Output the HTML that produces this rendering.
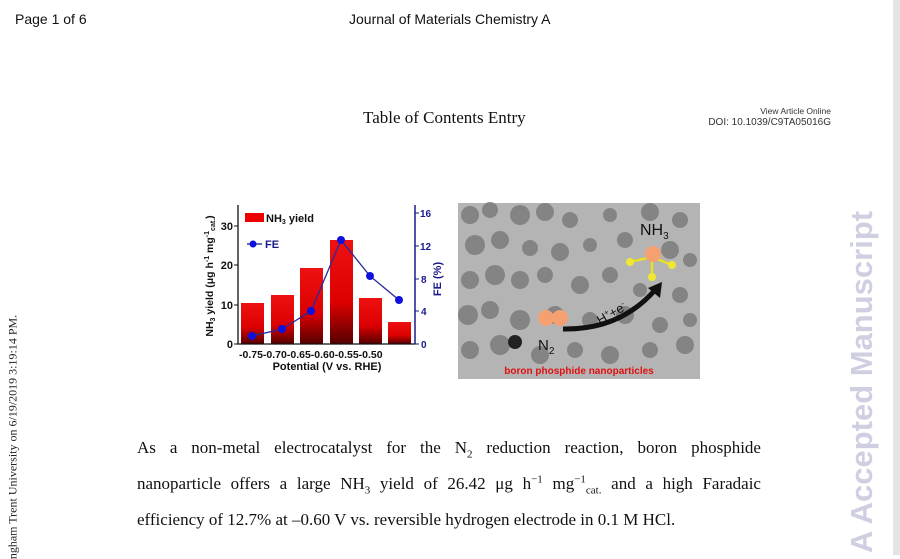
<!DOCTYPE html>
<html><head><meta charset="utf-8"><style>
body{margin:0;width:900px;height:555px;background:#fff;position:relative;overflow:hidden;font-family:"Liberation Sans",sans-serif}
.abs{position:absolute;white-space:nowrap}
.serif{font-family:"Liberation Serif",serif}
.ln{position:absolute;left:137px;width:624px;font-size:17px;color:#111;text-align:justify;text-align-last:justify;white-space:nowrap;font-family:"Liberation Serif",serif}
.ln sub,.ln sup{font-size:11px;line-height:0}
</style></head><body>
<div style="position:absolute;left:893px;top:0;width:7px;height:555px;background:#e4e4e4"></div>
<div class="abs" style="left:15px;top:11px;font-size:14px;color:#111">Page 1 of 6</div>
<div class="abs" style="left:349px;top:11px;font-size:14px;color:#111">Journal of Materials Chemistry A</div>
<div class="abs serif" style="left:363px;top:108px;font-size:17px;color:#111">Table of Contents Entry</div>
<div class="abs" style="right:69px;top:106px;font-size:8.5px;color:#333;text-align:right">View Article Online</div>
<div class="abs" style="right:69px;top:117px;font-size:10px;color:#333;text-align:right">DOI: 10.1039/C9TA05016G</div>

<div class="abs" style="left:862px;top:382px;transform:translate(-50%,-50%) rotate(-90deg);font-size:31px;font-weight:bold;color:#cfcfe2">A Accepted Manuscript</div>
<div class="abs serif" style="left:13px;top:437px;transform:translate(-50%,-50%) rotate(-90deg);font-size:12px;color:#222">ngham Trent University on 6/19/2019 3:19:14 PM.</div>

<svg style="position:absolute;left:0;top:0" width="900" height="555">
<defs><linearGradient id="bg" x1="0" y1="0" x2="0" y2="1"><stop offset="0" stop-color="#ee1111"/><stop offset="0.6" stop-color="#dd0000"/><stop offset="1" stop-color="#550000"/></linearGradient></defs>
<g font-family="Liberation Sans,sans-serif" font-weight="bold" font-size="11">
<rect x="241" y="303" width="23" height="41" fill="url(#bg)"/>
<rect x="271" y="295" width="23" height="49" fill="url(#bg)"/>
<rect x="300" y="268" width="23" height="76" fill="url(#bg)"/>
<rect x="330" y="240" width="23" height="104" fill="url(#bg)"/>
<rect x="359" y="298" width="23" height="46" fill="url(#bg)"/>
<rect x="388" y="322" width="23" height="22" fill="url(#bg)"/>
<polyline points="252,336 282,329 311,311 341,240 370,276 399,300" fill="none" stroke="#2a2a9a" stroke-width="1.3"/>
<g fill="#1010dd"><circle cx="252" cy="336" r="4"/><circle cx="282" cy="329" r="4"/><circle cx="311" cy="311" r="4"/><circle cx="341" cy="240" r="4"/><circle cx="370" cy="276" r="4"/><circle cx="399" cy="300" r="4"/></g>
<path d="M238 205V344H415" fill="none" stroke="#111" stroke-width="1.3"/>
<line x1="415" y1="205" x2="415" y2="344" stroke="#1a1a8a" stroke-width="1.5"/>
<g stroke="#111"><line x1="234" y1="344" x2="238" y2="344"/><line x1="234" y1="305" x2="238" y2="305"/><line x1="234" y1="265" x2="238" y2="265"/><line x1="234" y1="226" x2="238" y2="226"/></g>
<g stroke="#1a1a8a"><line x1="415" y1="344" x2="419" y2="344"/><line x1="415" y1="311" x2="419" y2="311"/><line x1="415" y1="279" x2="419" y2="279"/><line x1="415" y1="246" x2="419" y2="246"/><line x1="415" y1="213" x2="419" y2="213"/></g>
<g text-anchor="end" fill="#111"><text x="233" y="348">0</text><text x="233" y="309">10</text><text x="233" y="269">20</text><text x="233" y="230">30</text></g>
<g fill="#1a1a8a" font-size="10"><text x="421" y="348">0</text><text x="421" y="315">4</text><text x="421" y="283">8</text><text x="420" y="250">12</text><text x="420" y="217">16</text></g>
<text x="239" y="358" fill="#111" font-size="10.5">-0.75-0.70-0.65-0.60-0.55-0.50</text>
<text x="327" y="370" fill="#111" text-anchor="middle" font-size="11">Potential (V vs. RHE)</text>
<text transform="translate(213,276) rotate(-90)" text-anchor="middle" fill="#111" font-size="10.5">NH<tspan font-size="7" dy="2">3</tspan><tspan dy="-2"> yield (μg h</tspan><tspan font-size="7" dy="-4">-1</tspan><tspan dy="4"> mg</tspan><tspan font-size="7" dy="-4">-1</tspan><tspan font-size="7" dy="6">cat.</tspan><tspan dy="-2">)</tspan></text>
<text transform="translate(441,279) rotate(-90)" text-anchor="middle" fill="#1a1a8a" font-size="11">FE (%)</text>
<rect x="245" y="213" width="19" height="9" fill="#e00"/>
<text x="266" y="222" fill="#111">NH<tspan font-size="7" dy="2">3</tspan><tspan dy="-2"> yield</tspan></text>
<line x1="247" y1="244" x2="262" y2="244" stroke="#1a1a8a" stroke-width="1.3"/><circle cx="253" cy="244" r="3.5" fill="#1010dd"/>
<text x="265" y="248" fill="#1a1a8a">FE</text>
</g>
<g>
<rect x="458" y="203" width="242" height="176" fill="#b4b4b4"/>
<g fill="#7c7c7c" opacity="0.85">
<circle cx="470" cy="215" r="9"/><circle cx="490" cy="210" r="8"/><circle cx="520" cy="215" r="10"/><circle cx="545" cy="212" r="9"/><circle cx="570" cy="220" r="8"/><circle cx="610" cy="215" r="7"/><circle cx="650" cy="212" r="9"/><circle cx="680" cy="220" r="8"/>
<circle cx="475" cy="245" r="10"/><circle cx="500" cy="240" r="9"/><circle cx="530" cy="248" r="8"/><circle cx="560" cy="252" r="9"/><circle cx="590" cy="245" r="7"/><circle cx="625" cy="240" r="8"/><circle cx="670" cy="250" r="9"/><circle cx="690" cy="260" r="7"/>
<circle cx="470" cy="280" r="9"/><circle cx="495" cy="275" r="10"/><circle cx="520" cy="280" r="9"/><circle cx="545" cy="275" r="8"/><circle cx="580" cy="285" r="9"/><circle cx="610" cy="275" r="8"/><circle cx="640" cy="290" r="7"/><circle cx="680" cy="295" r="8"/>
<circle cx="468" cy="315" r="10"/><circle cx="490" cy="310" r="9"/><circle cx="520" cy="320" r="10"/><circle cx="555" cy="315" r="9"/><circle cx="590" cy="320" r="8"/><circle cx="625" cy="315" r="9"/><circle cx="660" cy="325" r="8"/><circle cx="690" cy="320" r="7"/>
<circle cx="470" cy="350" r="9"/><circle cx="500" cy="345" r="10"/><circle cx="540" cy="355" r="9"/><circle cx="575" cy="350" r="8"/><circle cx="610" cy="355" r="9"/><circle cx="650" cy="350" r="8"/><circle cx="685" cy="345" r="9"/>
</g>
<circle cx="515" cy="342" r="7" fill="#222"/>
<circle cx="546" cy="318" r="8" fill="#f4a070"/><circle cx="560" cy="318" r="8" fill="#f4a070"/><rect x="546" y="314" width="14" height="8" fill="#f4a070"/>
<path d="M563 329 Q620 330 655 290" fill="none" stroke="#111" stroke-width="5"/>
<polygon points="648,288 662,282 660,298" fill="#111"/>
<text x="600" y="325" transform="rotate(-30 600 325)" font-family="Liberation Sans,sans-serif" font-size="13" fill="#111">H<tspan font-size="8" dy="-5">+</tspan><tspan dy="5">+e</tspan><tspan font-size="8" dy="-5">-</tspan></text>
<g stroke="#e8e020" stroke-width="2.5"><line x1="652" y1="257" x2="630" y2="262"/><line x1="652" y1="257" x2="672" y2="265"/><line x1="652" y1="257" x2="652" y2="277"/></g>
<g fill="#f0e830"><circle cx="630" cy="262" r="4"/><circle cx="672" cy="265" r="4"/><circle cx="652" cy="277" r="4"/></g>
<circle cx="653" cy="254" r="8" fill="#f4a070"/>
<text x="640" y="235" font-family="Liberation Sans,sans-serif" font-size="16" fill="#111">NH<tspan font-size="10" dy="4">3</tspan></text>
<text x="538" y="350" font-family="Liberation Sans,sans-serif" font-size="15" fill="#111">N<tspan font-size="10" dy="4">2</tspan></text>
<text x="579" y="374" text-anchor="middle" font-family="Liberation Sans,sans-serif" font-size="10" font-weight="bold" fill="#e01010">boron phosphide nanoparticles</text>
</g>
</svg>

<div class="ln" style="top:438px">As a non-metal electrocatalyst for the N<sub>2</sub> reduction reaction, boron phosphide</div>
<div class="ln" style="top:474px">nanoparticle offers a large NH<sub>3</sub> yield of 26.42 μg h<sup>−1</sup> mg<sup>−1</sup><sub>cat.</sub> and a high Faradaic</div>
<div class="ln" style="top:510px;text-align-last:left">efficiency of 12.7% at –0.60 V vs. reversible hydrogen electrode in 0.1 M HCl.</div>
</body></html>
